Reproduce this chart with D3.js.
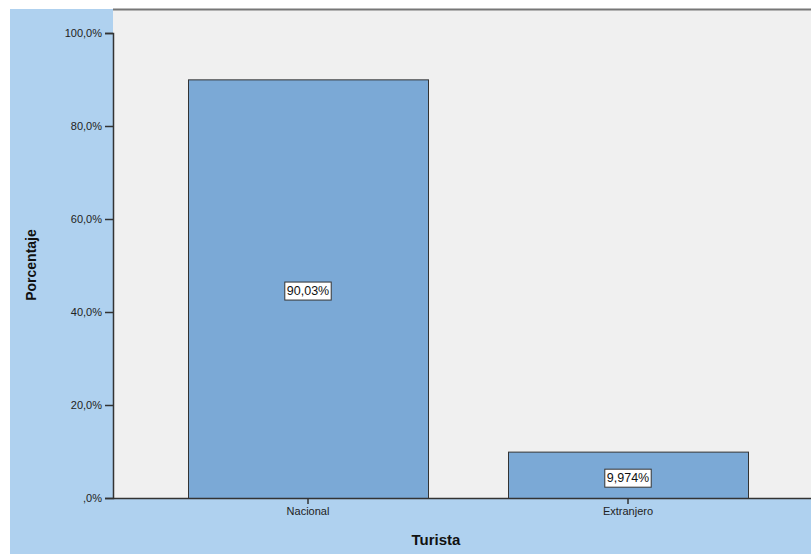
<!DOCTYPE html>
<html><head><meta charset="utf-8">
<script src="https://cdn.jsdelivr.net/npm/d3@7"></script>
<style>body{margin:0;background:#fff}svg{display:block}text{font-family:"Liberation Sans",Arial,sans-serif}</style>
</head><body>
<svg id="c" width="811" height="554"></svg>
<script>
const categories = ["Nacional", "Extranjero"];
const values = [90.03, 9.974];
const valueLabels = ["90,03%", "9,974%"];
const yTicks = [0, 20, 40, 60, 80, 100];
const yTickLabels = [",0%", "20,0%", "40,0%", "60,0%", "80,0%", "100,0%"];

const svg = d3.select("#c");
const L = 113, R = 811, T = 9, B = 498;
svg.append("rect").attr("x",10).attr("y",9).attr("width",801).attr("height",545).attr("fill","#afd1ef");
svg.append("rect").attr("x",L).attr("y",T).attr("width",R-L).attr("height",B-T).attr("fill","#f0f0f0");
svg.append("line").attr("x1",L).attr("x2",R).attr("y1",T+0.5).attr("y2",T+0.5).attr("stroke","#777").attr("stroke-width",2);

const y = d3.scaleLinear().domain([0,100]).range([B,33]);
const x = d3.scaleBand().domain(categories).range([148,788]).paddingInner(0.25).paddingOuter(0.125);

svg.selectAll("rect.bar").data(categories).enter().append("rect").attr("class","bar")
  .attr("x",d=>x(d)+0.5).attr("width",x.bandwidth())
  .attr("y",(d,i)=>y(values[i])+0.5).attr("height",(d,i)=>B-y(values[i]))
  .attr("fill","#7ba9d6").attr("stroke","#333").attr("stroke-width",1);

const yAxis = d3.axisLeft(y).tickValues(yTicks).tickFormat((d,i)=>yTickLabels[i]).tickSize(8).tickPadding(3);
const gy = svg.append("g").attr("transform",`translate(${L},0)`).call(yAxis);
gy.select(".domain").attr("stroke","#333").attr("stroke-width",1.5);
gy.selectAll(".tick line").attr("stroke","#333").attr("stroke-width",1.5);
gy.selectAll("text").attr("font-size",11).attr("fill","#222").attr("font-family","Liberation Sans, Arial, sans-serif");

const xAxis = d3.axisBottom(x).tickSize(6).tickPadding(3).tickSizeOuter(0);
const gx = svg.append("g").attr("transform",`translate(0,${B})`).call(xAxis);
gx.select(".domain").attr("d",`M${L},0.5H${R}`).attr("stroke","#333").attr("stroke-width",1.5);
gx.selectAll(".tick line").attr("stroke","#333").attr("stroke-width",1.5);
gx.selectAll("text").attr("font-size",11).attr("fill","#222").attr("font-family","Liberation Sans, Arial, sans-serif");

// value labels
const lab = svg.selectAll("g.lab").data(categories).enter().append("g").attr("class","lab")
  .attr("transform",(d,i)=>`translate(${x(d)+x.bandwidth()/2},${(y(values[i])+B)/2 + (i===1?3:2)})`);
lab.append("text").text((d,i)=>valueLabels[i]).attr("text-anchor","middle").attr("dy","0.35em")
  .attr("font-size",12.5).attr("fill","#111");
lab.each(function(){
  const g=d3.select(this); const bb=g.select("text").node().getBBox();
  g.insert("rect","text").attr("x",bb.x-2).attr("y",bb.y-2).attr("width",bb.width+4).attr("height",bb.height+4)
   .attr("fill","#fff").attr("stroke","#333").attr("stroke-width",1);
});

svg.append("text").attr("transform","translate(36,265) rotate(-90)").attr("text-anchor","middle")
  .attr("font-size",14).attr("font-weight","bold").attr("fill","#111").text("Porcentaje");
svg.append("text").attr("x",436).attr("y",545).attr("text-anchor","middle")
  .attr("font-size",15).attr("font-weight","bold").attr("fill","#111").text("Turista");
</script>
</body></html>
